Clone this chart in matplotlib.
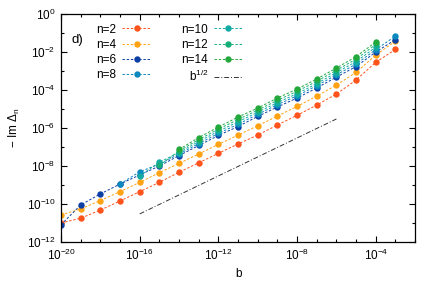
import matplotlib
matplotlib.use('Agg')
import numpy as np
import matplotlib.pyplot as plt
from matplotlib.ticker import LogLocator, NullFormatter

plt.rcParams['font.family'] = ['Liberation Sans', 'DejaVu Sans']

# b values (decade exponents) and log10(-Im Delta_n)
b_2 = [-20, -19, -18, -17, -16, -15, -14, -13, -12, -11, -10, -9, -8, -7, -6, -5, -4, -3]
y_2 = [-11.0, -10.75, -10.32, -9.84, -9.35, -8.86, -8.33, -7.83, -7.33, -6.84,
       -6.37, -5.84, -5.33, -4.79, -4.21, -3.47, -2.54, -1.86]
b_4 = b_2
y_4 = [-10.58, -10.26, -9.82, -9.35, -8.86, -8.35, -7.86, -7.37, -6.86, -6.37,
       -5.88, -5.37, -4.86, -4.32, -3.74, -3.07, -2.16, -1.42]
b_6 = b_2
y_6 = [-11.09, -10.05, -9.47, -8.95, -8.47, -8.0, -7.45, -6.92, -6.39, -5.92,
       -5.39, -4.89, -4.42, -3.89, -3.32, -2.76, -2.0, -1.34]
b_8 = [-17, -16, -15, -14, -13, -12, -11, -10, -9, -8, -7, -6, -5, -4, -3]
y_8 = [-8.95, -8.30, -7.90, -7.37, -6.82, -6.28, -5.80, -5.28, -4.77, -4.30,
       -3.77, -3.20, -2.63, -1.87, -1.16]
b_10 = [-16, -15, -14, -13, -12, -11, -10, -9, -8, -7, -6, -5, -4]
y_10 = [-8.52, -7.80, -7.29, -6.71, -6.17, -5.67, -5.17, -4.66, -4.19, -3.66,
        -3.08, -2.50, -1.74]
b_12 = [-15, -14, -13, -12, -11, -10, -9, -8, -7, -6, -5, -4]
y_12 = [-7.97, -7.21, -6.61, -6.06, -5.55, -5.06, -4.54, -4.07, -3.54, -2.96,
        -2.37, -1.60]
b_14 = [-14, -13, -12, -11, -10, -9, -8, -7, -6, -5, -4]
y_14 = [-7.13, -6.50, -5.95, -5.42, -4.95, -4.42, -3.95, -3.42, -2.84, -2.24, -1.47]

guide_b = [1e-16, 1e-6]
guide_y = [3e-11, 3e-6]

xticks = [1e-20, 1e-16, 1e-12, 1e-8, 1e-4]
yticks = [1e-12, 1e-10, 1e-8, 1e-6, 1e-4, 1e-2, 1e0]

series = [(b_2, y_2, 'n=2', '#ff531c'),
          (b_4, y_4, 'n=4', '#ffa214'),
          (b_6, y_6, 'n=6', '#0c3fa6'),
          (b_8, y_8, 'n=8', '#0b88bd'),
          (b_10, y_10, 'n=10', '#13aaa6'),
          (b_12, y_12, 'n=12', '#16ae78'),
          (b_14, y_14, 'n=14', '#23a83c')]

fig = plt.figure(figsize=(4.36, 2.82), dpi=100)
ax = fig.add_axes([0.140, 0.142, 0.812, 0.808])

for bb, yy, lab, col in series:
    ax.plot(np.power(10.0, bb), np.power(10.0, yy), color=col, lw=0.7,
            ls=(0, (2.5, 1.8)), marker='o', ms=4.6, mec='none', label=lab)
ax.plot(guide_b, guide_y, color='#333333', lw=0.7, ls=(0, (5, 2, 1, 2)),
        label='b$^\\mathregular{1/2}$')

ax.set_xscale('log')
ax.set_yscale('log')
ax.set_xlim(1e-20, 1e-2)
ax.set_ylim(1e-12, 1e0)

ax.set_xticks(xticks)
ax.set_yticks(yticks)
ax.xaxis.set_minor_locator(LogLocator(base=10.0, subs=(1.0,), numticks=30))
ax.xaxis.set_minor_formatter(NullFormatter())
ax.yaxis.set_minor_locator(LogLocator(base=10.0, subs=(1.0,), numticks=30))
ax.yaxis.set_minor_formatter(NullFormatter())

ax.tick_params(which='both', direction='in', top=True, right=True, labelsize=8.5)
ax.tick_params(which='major', length=4, width=0.8, pad=4)
ax.tick_params(which='minor', length=2.5, width=0.8)
for sp in ax.spines.values():
    sp.set_linewidth(0.9)

ax.set_xlabel('b', fontsize=8.5, labelpad=4)
ax.set_ylabel('− Im Δ$_\\mathregular{n}$', fontsize=8.5, labelpad=3)
ax.text(0.030, 0.875, 'd)', transform=ax.transAxes, fontsize=9.5)

ax.legend(ncol=2, loc='upper left', bbox_to_anchor=(0.07, 1.005), frameon=False,
          markerfirst=False, fontsize=8.5, handlelength=2.4, numpoints=1,
          columnspacing=2.6, labelspacing=0.26, handletextpad=0.5)

plt.savefig('out.png', dpi=100)
